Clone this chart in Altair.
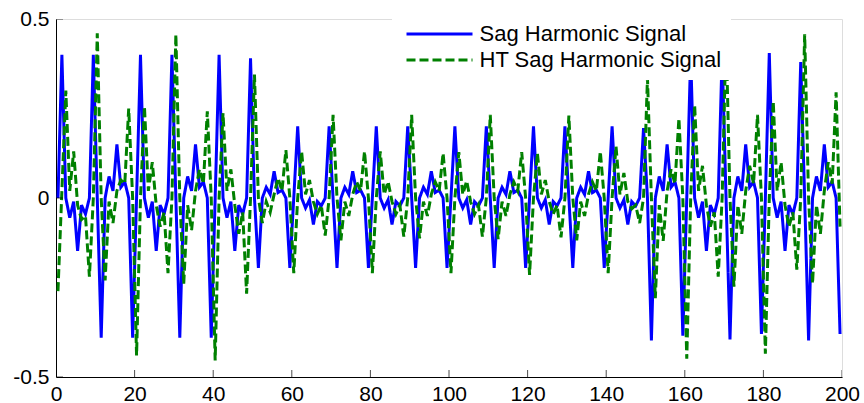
import altair as alt
import pandas as pd

FONT = "Liberation Sans"
SERIES = ["Sag Harmonic Signal", "HT Sag Harmonic Signal"]
X_TICKS = [0, 20, 40, 60, 80, 100, 120, 140, 160, 180, 200]
Y_TICKS = [-0.5, 0, 0.5]

# Sag harmonic signal, 20 samples per fundamental cycle (one row per cycle)
sag_signal = [
    0.00, 0.40, 0.00, -0.055, -0.01, -0.148, -0.02, -0.045, 0.00, 0.40, 0.00, -0.39, 0.00, 0.06, 0.02, 0.15, 0.03, 0.045, 0.00, -0.39,
    0.00, 0.40, 0.00, -0.055, -0.01, -0.148, -0.02, -0.045, 0.00, 0.40, 0.00, -0.39, 0.00, 0.06, 0.02, 0.15, 0.03, 0.045, 0.00, -0.39,
    0.00, 0.40, 0.00, -0.055, -0.01, -0.148, -0.02, -0.045, 0.00, 0.39, 0.00, -0.195, 0.00, 0.03, 0.01, 0.075, 0.015, 0.022, 0.00, -0.195,
    0.00, 0.20, 0.00, -0.028, -0.005, -0.074, -0.01, -0.022, 0.00, 0.20, 0.00, -0.195, 0.00, 0.03, 0.01, 0.075, 0.015, 0.022, 0.00, -0.195,
    0.00, 0.20, 0.00, -0.028, -0.005, -0.074, -0.01, -0.022, 0.00, 0.20, 0.00, -0.195, 0.00, 0.03, 0.01, 0.075, 0.015, 0.022, 0.00, -0.195,
    0.00, 0.20, 0.00, -0.028, -0.005, -0.074, -0.01, -0.022, 0.00, 0.20, 0.00, -0.195, 0.00, 0.03, 0.01, 0.075, 0.015, 0.022, 0.00, -0.195,
    0.00, 0.20, 0.00, -0.028, -0.005, -0.074, -0.01, -0.022, 0.00, 0.20, 0.00, -0.195, 0.00, 0.03, 0.01, 0.075, 0.015, 0.022, 0.00, -0.195,
    0.00, 0.20, 0.00, -0.028, -0.005, -0.074, -0.01, -0.022, 0.00, 0.195, 0.00, -0.398, 0.00, 0.06, 0.02, 0.15, 0.03, 0.045, 0.00, -0.385,
    0.00, 0.40, 0.00, -0.055, -0.01, -0.148, -0.02, -0.045, 0.00, 0.40, 0.00, -0.395, 0.00, 0.06, 0.02, 0.15, 0.03, 0.045, 0.00, -0.38,
    0.00, 0.405, 0.00, -0.055, -0.01, -0.148, -0.02, -0.045, 0.00, 0.38, 0.00, -0.398, 0.00, 0.06, 0.02, 0.15, 0.03, 0.045, 0.00, -0.38,
]

# Hilbert-transformed sag harmonic signal, same sampling
ht_sag_signal = [
    -0.26, 0.02, 0.30, 0.02, 0.13, -0.02, -0.06, -0.05, -0.22, 0.00, 0.46, 0.00, -0.23, -0.01, -0.07, 0.02, 0.05, 0.04, 0.25, 0.00,
    -0.44, 0.00, 0.256, 0.02, 0.10, -0.02, -0.08, -0.04, -0.21, 0.00, 0.457, 0.00, -0.24, -0.02, -0.09, 0.02, 0.08, 0.04, 0.242, 0.00,
    -0.454, 0.00, 0.237, 0.02, 0.08, -0.02, -0.10, -0.04, -0.267, 0.00, 0.345, 0.00, -0.07, -0.01, -0.04, 0.01, 0.056, 0.02, 0.134, 0.00,
    -0.21, 0.00, 0.13, 0.01, 0.05, -0.01, -0.045, -0.02, -0.105, 0.00, 0.232, 0.00, -0.118, -0.01, -0.05, 0.01, 0.045, 0.02, 0.13, 0.00,
    -0.21, 0.00, 0.13, 0.01, 0.046, -0.01, -0.045, -0.02, -0.108, 0.00, 0.232, 0.00, -0.113, -0.01, -0.05, 0.01, 0.045, 0.02, 0.125, 0.00,
    -0.21, 0.00, 0.128, 0.01, 0.048, -0.01, -0.045, -0.02, -0.108, 0.00, 0.232, 0.00, -0.115, -0.01, -0.05, 0.01, 0.045, 0.02, 0.128, 0.00,
    -0.215, 0.00, 0.125, 0.01, 0.05, -0.01, -0.045, -0.02, -0.11, 0.00, 0.23, 0.00, -0.118, -0.01, -0.05, 0.01, 0.045, 0.02, 0.13, 0.00,
    -0.21, 0.00, 0.144, 0.01, 0.07, -0.01, -0.03, -0.02, -0.07, 0.00, 0.335, 0.00, -0.28, -0.02, -0.12, 0.02, 0.08, 0.04, 0.223, 0.00,
    -0.449, 0.00, 0.26, 0.02, 0.09, -0.02, -0.08, -0.04, -0.22, 0.00, 0.46, 0.00, -0.248, -0.02, -0.10, 0.02, 0.09, 0.04, 0.232, 0.00,
    -0.435, 0.00, 0.27, 0.02, 0.10, -0.02, -0.08, -0.04, -0.20, 0.00, 0.457, 0.00, -0.239, -0.02, -0.10, 0.02, 0.10, 0.04, 0.295, -0.08,
]

# samples sit at the middle of each unit step
sample_pos = [k + 0.5 for k in range(len(sag_signal))]

lines = pd.DataFrame({
    "n": sample_pos + sample_pos,
    "value": sag_signal + ht_sag_signal,
    "series": [SERIES[0]] * len(sag_signal) + [SERIES[1]] * len(ht_sag_signal),
})
x_ticks = pd.DataFrame({"t": X_TICKS})
y_ticks = pd.DataFrame({"v": Y_TICKS})

x_scale = alt.Scale(domain=[0, 200], nice=False, zero=False)
y_scale = alt.Scale(domain=[-0.5, 0.5], nice=False, zero=False)

# long horizontal line symbol: path spans 12 units, scaled by sqrt(size)/2
legend = alt.Legend(
    title=None, orient="none", legendX=336, legendY=-5,
    symbolType="M-6,0H6", symbolSize=121, symbolStrokeWidth=3, symbolOffset=27.5,
    labelFont=FONT, labelFontSize=22, labelColor="black", labelOffset=29, labelLimit=0,
    fillColor="white", padding=9, rowPadding=4, zindex=1,
)
color = alt.Color("series:N", scale=alt.Scale(domain=SERIES, range=["#0000ff", "#008000"]), legend=legend)
dash = alt.StrokeDash("series:N", scale=alt.Scale(domain=SERIES, range=[[1, 0], [9, 4]]), legend=legend)

x_enc = alt.X("n:Q", scale=x_scale, axis=alt.Axis(
    values=X_TICKS, title=None, grid=False, ticks=False, domainColor="black",
    labelFont=FONT, labelFontSize=21, labelColor="black", labelPadding=6,
    labelFlush=False, labelOverlap=False,
))
y_enc = alt.Y("value:Q", scale=y_scale, axis=alt.Axis(
    values=Y_TICKS, title=None, grid=False, ticks=False, domainColor="black",
    labelFont=FONT, labelFontSize=21, labelColor="black", labelPadding=7,
    labelFlush=False, labelOverlap=False, format="~g",
    labelExpr="replace(datum.label, '\u2212', '-')",
))

base = alt.Chart(lines)
sag_line = base.transform_filter(alt.datum.series == SERIES[0]).mark_line(strokeWidth=3).encode(
    x=x_enc, y=y_enc, color=color, strokeDash=dash)
ht_line = base.transform_filter(alt.datum.series == SERIES[1]).mark_line(strokeWidth=3).encode(
    x=x_enc, y=y_enc, color=color, strokeDash=dash)

# inward-pointing tick marks, clipped to the plot area
x_tick_marks = alt.Chart(x_ticks).mark_tick(orient="vertical", size=14, thickness=1, color="black", clip=True).encode(
    x=alt.X("t:Q", scale=x_scale), y=alt.datum(-0.5))
y_tick_marks = alt.Chart(y_ticks).mark_tick(orient="horizontal", size=14, thickness=1, color="black", clip=True).encode(
    y=alt.Y("v:Q", scale=y_scale), x=alt.datum(0))

chart = alt.layer(sag_line, ht_line, x_tick_marks, y_tick_marks).properties(
    width=786, height=358,
    padding={"left": 56, "top": 19, "right": 22, "bottom": 26},
    autosize=alt.AutoSizeParams(type="none"),
).configure_view(stroke="transparent").configure(background="white")

chart.save("out.html", embed_options={"renderer": "svg", "actions": False})
